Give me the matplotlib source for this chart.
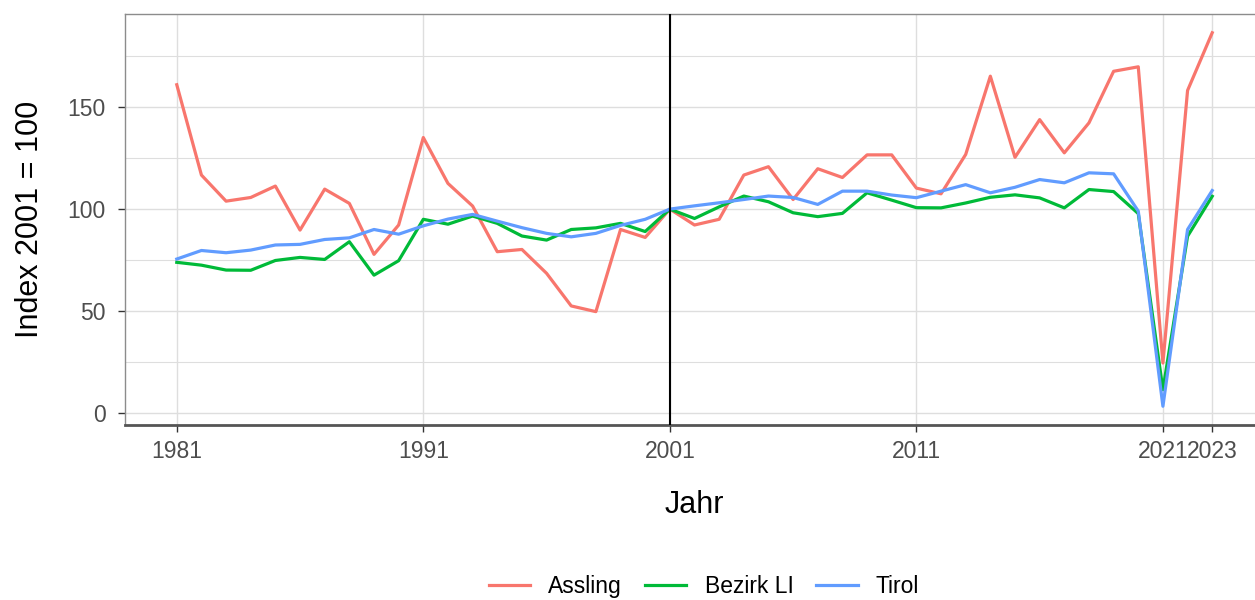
import numpy as np
import matplotlib
matplotlib.use("Agg")
import matplotlib.pyplot as plt

plt.rcParams['font.family'] = ['Liberation Sans', 'DejaVu Sans']

# years and index values (2001 = 100)
years = list(range(1981, 2024))

assling = [161, 116.7, 103.9, 105.7, 111.3, 89.7, 109.8, 102.8, 77.8, 92.2,
           135.1, 112.6, 101.5, 79.1, 80.2, 68.5, 52.5, 49.7, 90.0, 86.1,
           100, 92.2, 95.0, 116.7, 120.8, 104.7, 119.8, 115.5, 126.6, 126.6,
           110.3, 107.5, 126.8, 165.2, 125.4, 143.9, 127.6, 142.3, 167.6, 169.8,
           24.5, 158.2, 186.5]

bezirk_li = [73.9, 72.5, 70.1, 70.0, 74.8, 76.3, 75.3, 84.0, 67.6, 74.7,
             95.0, 92.6, 96.6, 93.0, 86.8, 84.8, 90.0, 90.8, 93.0, 89.0,
             100, 95.4, 101.1, 106.4, 103.6, 98.2, 96.3, 97.9, 108.0, 104.4,
             100.7, 100.6, 103.0, 105.8, 107.0, 105.5, 100.6, 109.6, 108.6, 97.8,
             11.4, 86.7, 106.3]

tirol = [75.5, 79.7, 78.6, 79.9, 82.4, 82.7, 85.1, 85.9, 90.0, 87.7,
         91.8, 95.1, 97.4, 94.1, 90.9, 88.1, 86.4, 88.1, 92.0, 95.0,
         100, 101.6, 103.1, 104.7, 106.4, 105.7, 102.3, 108.8, 108.8, 106.9,
         105.6, 108.8, 112.0, 108.0, 110.7, 114.5, 112.9, 117.8, 117.3, 99.0,
         3.3, 90.0, 109.1]

series_names = ["Assling", "Bezirk LI", "Tirol"]
series_colors = ["#F8766D", "#00BA38", "#619CFF"]

x_ticks = [1981, 1991, 2001, 2011, 2021, 2023]
y_ticks = [0, 50, 100, 150]

fig = plt.figure(figsize=(12.55, 6), dpi=100)
ax = fig.add_axes([125 / 1255, 1 - 425 / 600, (1264 - 125) / 1255, (425 - 14) / 600])

# grid
ax.set_axisbelow(True)
for v in [25, 75, 125, 175]:
    ax.axhline(v, color="#DEDEDE", lw=0.8, zorder=0)
ax.grid(True, which="major", color="#DEDEDE", lw=1.0)

for vals, name, col in zip([assling, bezirk_li, tirol], series_names, series_colors):
    ax.plot(years, vals, color=col, lw=2.3, label=name, zorder=3)

ax.axvline(2001, color="black", lw=1.5, zorder=4)

ax.set_xlim(1978.9, 2025.1)
ax.set_ylim(-5.9, 195.7)
ax.set_xticks(x_ticks)
ax.set_xticklabels([str(t) for t in x_ticks])
ax.set_yticks(y_ticks)

ax.tick_params(axis="both", labelsize=16.5, labelcolor="#4D4D4D", color="#333333",
               length=5, width=1)
ax.tick_params(axis="x", pad=6)
ax.tick_params(axis="y", pad=9)

for side in ["top", "left", "right"]:
    ax.spines[side].set_color("#8C8C8C")
    ax.spines[side].set_linewidth(1.0)
ax.spines["bottom"].set_color("#555555")
ax.spines["bottom"].set_linewidth(2.0)

ax.set_xlabel("Jahr", fontsize=22, labelpad=19)
ax.set_ylabel("Index 2001 = 100", fontsize=22, labelpad=16)

fig.legend(loc="center", bbox_to_anchor=(0.561, 0.022), ncol=3, frameon=False,
           fontsize=16.5, handlelength=1.8, handletextpad=0.8, columnspacing=1.0)

fig.savefig("out.png", dpi=100)
